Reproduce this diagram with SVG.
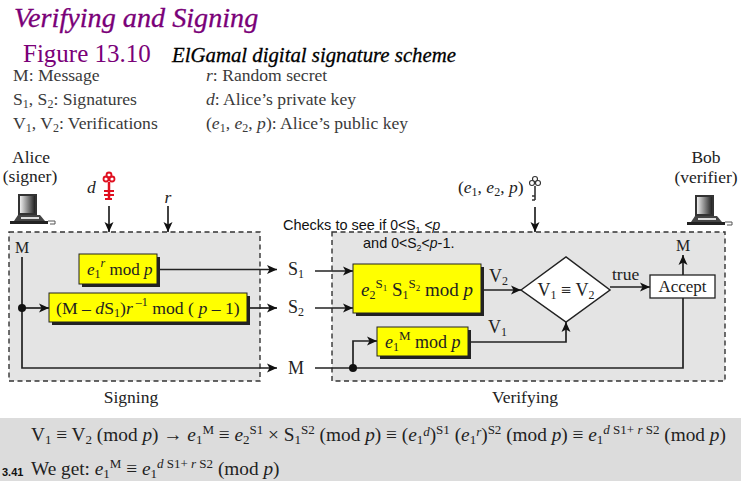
<svg xmlns="http://www.w3.org/2000/svg" width="741" height="481" viewBox="0 0 741 481">
<style>
text{font-family:"Liberation Serif","Times New Roman",serif;fill:#222;font-size:17.500px}
.t{font-size:18px}
.t1{font-size:17px}
.t2{font-size:17.700px}
.b{font-size:19px}
.b1{font-size:18px}
.l{font-size:17.600px;fill:#3a3a3a}
.i{font-style:italic}
.s{font-size:12px}
.ss{font-size:13px}
.sx{font-size:9px}
.p{font-size:19.300px}
.a{font-family:"Liberation Sans",Arial,sans-serif;font-size:14.500px;fill:#111}
.m{font-size:14px;fill:#111}
.panel{fill:#e4e4e4;stroke:#333;stroke-width:1.4;stroke-dasharray:5 3.500}
.box{fill:#ffff00;stroke:#222;stroke-width:1}
.sh{fill:#222}
.c{fill:none;stroke:#222;stroke-width:1.700}
.dot{fill:#111}
</style>
<defs>
<linearGradient id="scr" x1="0" x2="1" y1="0" y2="0"><stop offset="0" stop-color="#eee"/><stop offset="1" stop-color="#222"/></linearGradient>
<marker id="ah" markerUnits="userSpaceOnUse" markerWidth="12" markerHeight="12" refX="10" refY="6" orient="auto"><path d="M0 1.500L10 6L0 10.500L2.500 6Z" fill="#111"/></marker>
<g id="pc">
<rect x="8" y="0" width="19" height="21" fill="#333"/>
<rect x="10" y="2" width="15" height="17" fill="url(#scr)"/>
<path d="M4 27L8 21H30L35 27Z" fill="#444"/>
<rect x="11" y="23" width="18" height="2" fill="#ddd"/>
<path d="M0 27H38V30H0Z" fill="#222"/>
<path d="M38 27h7v3h-5" fill="none" stroke="#555"/>
</g>
</defs>
<rect width="741" height="481" fill="#fff"/>
<rect x="0" y="418" width="741" height="63" fill="#dcdcdc"/>
<g id="header">
<text x="14" y="27" style="font-size:28.200px;fill:#7a0078;stroke:#7a0078;stroke-width:.3" class="i">Verifying and  Signing</text>
<text x="23" y="62" style="font-size:25px;fill:#7a0078">Figure 13.10</text>
<text x="172" y="62" style="font-size:20.800px;fill:#000;stroke:#000;stroke-width:.3" class="i">ElGamal digital signature scheme</text>
</g>
<g id="legend">
<text x="13" y="81" class="l">M: Message</text>
<text x="13" y="105" class="l">S<tspan class="s" dy="3">1</tspan><tspan dy="-3">, S</tspan><tspan class="s" dy="3">2</tspan><tspan dy="-3">: Signatures</tspan></text>
<text x="13" y="129" class="l">V<tspan class="s" dy="3">1</tspan><tspan dy="-3">, V</tspan><tspan class="s" dy="3">2</tspan><tspan dy="-3">: Verifications</tspan></text>
<text x="206" y="81" class="l"><tspan class="i">r</tspan>: Random secret</text>
<text x="206" y="105" class="l"><tspan class="i">d</tspan>: Alice’s private key</text>
<text x="206" y="129" class="l">(<tspan class="i">e</tspan><tspan class="s" dy="3">1</tspan><tspan dy="-3">, </tspan><tspan class="i">e</tspan><tspan class="s" dy="3">2</tspan><tspan dy="-3">, </tspan><tspan class="i">p</tspan>): Alice’s public key</text>
</g>
<g id="alice">
<text x="31" y="163" text-anchor="middle">Alice</text>
<text x="30" y="182" text-anchor="middle">(signer)</text>
<use href="#pc" x="10" y="194"/>
</g>
<g id="bob">
<text x="706" y="163" text-anchor="middle">Bob</text>
<text x="706" y="183" text-anchor="middle">(verifier)</text>
<use href="#pc" x="687" y="195"/>
</g>
<g id="signing">
<rect class="panel" x="9" y="232" width="251" height="149"/>
<text x="131" y="403" text-anchor="middle">Signing</text>
<text x="22" y="253" text-anchor="middle" style="font-size:16px">M</text>
</g>
<g id="verifying">
<rect class="panel" x="332" y="232" width="393" height="149"/>
<text x="525" y="403" text-anchor="middle">Verifying</text>
</g>
<g id="private-key">
<text x="87" y="193" class="i">d</text>
<g fill="none" stroke="#e01020" stroke-width="1.800"><circle cx="109" cy="175" r="2.500"/><circle cx="106" cy="179" r="2.500"/><circle cx="112" cy="179" r="2.500"/><path d="M109 182V200" stroke-width="2.500"/><path d="M104 191H114M104 195H114M105 199H112"/></g>
</g>
<g id="public-key">
<text x="458" y="193">(<tspan class="i">e</tspan><tspan class="s" dy="3">1</tspan><tspan dy="-3">, </tspan><tspan class="i">e</tspan><tspan class="s" dy="3">2</tspan><tspan dy="-3">, </tspan><tspan class="i">p</tspan>)</text>
<g fill="#fff" stroke="#333" stroke-width="1.100"><circle cx="535" cy="179" r="2.500"/><circle cx="532" cy="183" r="2.500"/><circle cx="538" cy="183" r="2.500"/><path d="M535 186V200M535 196H532M535 200H532" fill="none" stroke-width="1.600"/></g>
</g>
<text id="r-label" x="168" y="203" class="i" text-anchor="middle">r</text>
<g id="connectors">
<path class="c" marker-end="url(#ah)" d="M109 206V232"/>
<path class="c" marker-end="url(#ah)" d="M168 206V232"/>
<path class="c" marker-end="url(#ah)" d="M535 207V232"/>
<path class="c" marker-end="url(#ah)" d="M157 269.500H277"/>
<path class="c" marker-end="url(#ah)" d="M247 308H277"/>
<path class="c" marker-end="url(#ah)" d="M22 257V368H277"/>
<path class="c" marker-end="url(#ah)" d="M22 308H49"/>
<path class="c" marker-end="url(#ah)" d="M315 271H353"/>
<path class="c" marker-end="url(#ah)" d="M315 308H353"/>
<path class="c" d="M315 368H683V298"/>
<path class="c" marker-end="url(#ah)" d="M353 368V341H377"/>
<path class="c" marker-end="url(#ah)" d="M468 342H566V322"/>
<path class="c" marker-end="url(#ah)" d="M481 290H521"/>
<path class="c" marker-end="url(#ah)" d="M610 287H650"/>
<path class="c" marker-end="url(#ah)" d="M683 275V255"/>
<circle class="dot" cx="22" cy="308" r="4"/>
<circle class="dot" cx="353" cy="368" r="4"/>
</g>
<g id="box-s1">
<rect class="sh" x="82" y="257" width="78" height="30"/>
<rect class="box" x="79" y="254" width="78" height="30"/>
<text x="87" y="275" class="t1"><tspan class="i">e</tspan><tspan class="s" dy="3">1</tspan><tspan class="s i" dy="-11">r</tspan><tspan dy="8"> mod </tspan><tspan class="i">p</tspan></text>
</g>
<g id="box-s2">
<rect class="sh" x="52" y="296" width="198" height="29"/>
<rect class="box" x="49" y="293" width="198" height="29"/>
<text x="56" y="314" class="t2">(M – <tspan class="i">d</tspan>S<tspan class="s" dy="3">1</tspan><tspan dy="-3">)</tspan><tspan class="i">r</tspan><tspan class="s" dy="-8"> –1</tspan><tspan dy="8"> mod ( </tspan><tspan class="i">p</tspan> – 1)</text>
</g>
<g id="box-v2">
<rect class="sh" x="356" y="267" width="128" height="49"/>
<rect class="box" x="353" y="264" width="128" height="49"/>
<text x="361" y="296" class="b"><tspan class="i">e</tspan><tspan class="s" dy="3">2</tspan><tspan class="ss" dy="-11">S</tspan><tspan class="sx" dy="3">1</tspan><tspan dy="5">  S</tspan><tspan class="s" dy="3">1</tspan><tspan class="ss" dy="-11">S</tspan><tspan class="sx" dy="3">2</tspan><tspan dy="5"> mod </tspan><tspan class="i">p</tspan></text>
</g>
<g id="box-v1">
<rect class="sh" x="380" y="330" width="91" height="29"/>
<rect class="box" x="377" y="327" width="91" height="29"/>
<text x="385" y="348" class="b1"><tspan class="i">e</tspan><tspan class="s" dy="3">1</tspan><tspan class="ss" dy="-11">M</tspan><tspan dy="8"> mod </tspan><tspan class="i">p</tspan></text>
</g>
<g id="compare">
<path d="M521 290L566 257L610 290L566 322Z" fill="#fff" stroke="#222" stroke-width="1.500"/>
<text x="566" y="296" text-anchor="middle" class="t">V<tspan class="s" dy="3">1</tspan><tspan dy="-3"> ≡ V</tspan><tspan class="s" dy="3">2</tspan></text>
</g>
<g id="accept">
<rect x="650" y="275" width="65" height="23" fill="#fff" stroke="#222" stroke-width="1.300"/>
<text x="682.500" y="292" text-anchor="middle" style="font-size:17px">Accept</text>
</g>
<g id="connector-labels">
<text x="288" y="275" class="t">S<tspan class="s" dy="3">1</tspan></text>
<text x="288" y="313" class="t">S<tspan class="s" dy="3">2</tspan></text>
<text x="288" y="374" class="t">M</text>
<text x="489" y="282" class="t">V<tspan class="s" dy="3">2</tspan></text>
<text x="488" y="333" class="t">V<tspan class="s" dy="3">1</tspan></text>
<text x="612" y="280">true</text>
<text x="683" y="251" text-anchor="middle" style="font-size:16px">M</text>
</g>
<g id="check-note">
<text x="283" y="230" class="a">Checks to see if <tspan class="m">0&lt;S</tspan><tspan class="sx" dy="3">1</tspan><tspan class="m" dy="-3"> &lt;</tspan><tspan class="m i">p</tspan></text>
<text x="363" y="248" class="a">and <tspan class="m">0&lt;S</tspan><tspan class="sx" dy="3">2</tspan><tspan class="m" dy="-3">&lt;</tspan><tspan class="m i">p</tspan>-1.</text>
</g>
<g id="proof">
<text x="31" y="441" class="p">V<tspan class="ss" dy="3">1</tspan><tspan dy="-3"> ≡ V</tspan><tspan class="ss" dy="3">2</tspan><tspan dy="-3"> (mod </tspan><tspan class="i">p</tspan>) → <tspan class="i">e</tspan><tspan class="ss" dy="3">1</tspan><tspan class="ss" dy="-10">M</tspan><tspan dy="7"> ≡ </tspan><tspan class="i">e</tspan><tspan class="ss" dy="3">2</tspan><tspan class="ss" dy="-10">S1</tspan><tspan dy="7"> × S</tspan><tspan class="ss" dy="3">1</tspan><tspan class="ss" dy="-10">S2</tspan><tspan dy="7"> (mod </tspan><tspan class="i">p</tspan>) ≡  (<tspan class="i">e</tspan><tspan class="ss" dy="3">1</tspan><tspan class="ss i" dy="-8">d</tspan><tspan dy="5">)</tspan><tspan class="ss" dy="-7">S1</tspan><tspan dy="7"> (</tspan><tspan class="i">e</tspan><tspan class="ss" dy="3">1</tspan><tspan class="ss i" dy="-8">r</tspan><tspan dy="5">)</tspan><tspan class="ss" dy="-7">S2</tspan><tspan dy="7"> (mod </tspan><tspan class="i">p</tspan>) ≡  <tspan class="i">e</tspan><tspan class="ss" dy="3">1</tspan><tspan class="ss i" dy="-10">d</tspan><tspan class="ss"> S1+ </tspan><tspan class="ss i">r</tspan><tspan class="ss"> S2</tspan><tspan dy="7"> (mod </tspan><tspan class="i">p</tspan>)</text>
<text x="31" y="475" class="p">We get: <tspan class="i">e</tspan><tspan class="ss" dy="3">1</tspan><tspan class="ss" dy="-10">M</tspan><tspan dy="7"> ≡ </tspan><tspan class="i">e</tspan><tspan class="ss" dy="3">1</tspan><tspan class="ss i" dy="-10">d</tspan><tspan class="ss"> S1+ </tspan><tspan class="ss i">r</tspan><tspan class="ss"> S2</tspan><tspan dy="7"> (mod </tspan><tspan class="i">p</tspan>)</text>
<text x="2" y="476" style="font-family:'Liberation Sans',Arial,sans-serif;font-size:11px;font-weight:bold;fill:#111">3.41</text>
</g>
</svg>
